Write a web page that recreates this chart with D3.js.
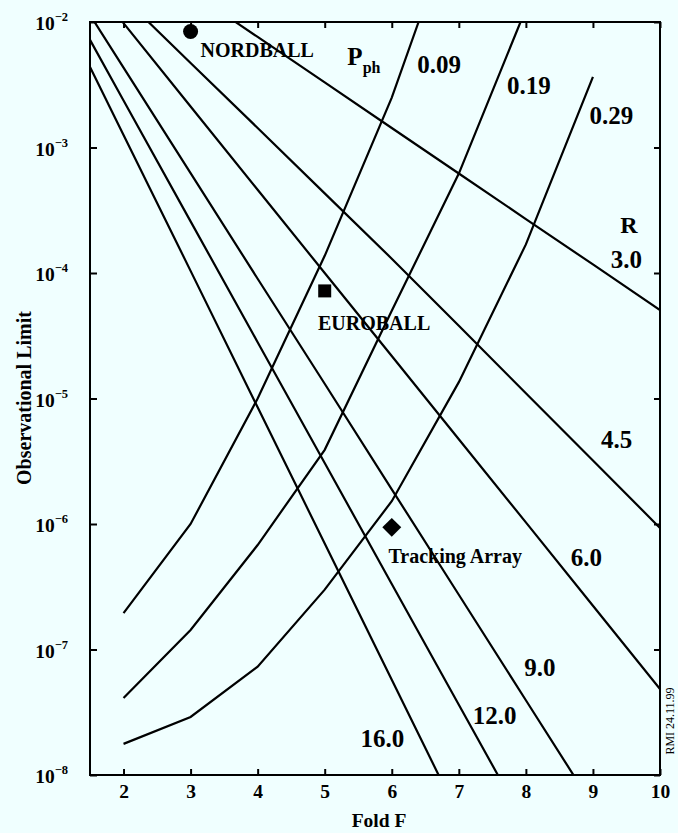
<!DOCTYPE html>
<html><head><meta charset="utf-8">
<script src="https://cdn.jsdelivr.net/npm/d3@7"></script>
<style>
html,body{margin:0;padding:0;background:#f0ffff;}
svg{display:block;background:#f0ffff;}
text{font-family:"Liberation Serif","Times New Roman",serif;font-weight:bold;fill:#000;}
</style></head><body>
<svg id="chart" width="678" height="833"></svg>
<script>
// ---------- data ----------
const foldTicks = [2, 3, 4, 5, 6, 7, 8, 9, 10];
const limitTickExponents = [-2, -3, -4, -5, -6, -7, -8];

// peak-to-background ratio R lines
const rLabels = ["3.0", "4.5", "6.0", "9.0", "12.0", "16.0"];
const rFolds = [1.5, 2, 3, 4, 5, 6, 7, 8, 9, 10];
const rLimit30  = [null, null, 1.75e-2, 7.6e-3, 3.30e-3, 1.43e-3, 6.21e-4, 2.69e-4, 1.17e-4, 5.07e-5];
const rLimit45  = [null, 1.56e-2, 4.72e-3, 1.43e-3, 4.31e-4, 1.30e-4, 3.80e-5, 1.10e-5, 3.21e-6, 9.3e-7];
const rLimit60  = [2.1e-2, 9.8e-3, 2.12e-3, 4.61e-4, 1.0e-4, 2.18e-5, 4.73e-6, 1.03e-6, 2.23e-7, 4.85e-8];
const rLimit90  = [1.14e-2, 4.33e-3, 6.25e-4, 9.0e-5, 1.31e-5, 1.89e-6, 2.73e-7, 3.94e-8, 5.7e-9, null];
const rLimit120 = [7.2e-3, 2.37e-3, 2.58e-4, 2.81e-5, 3.06e-6, 3.33e-7, 3.63e-8, 3.96e-9, null, null];
const rLimit160 = [4.38e-3, 1.26e-3, 1.04e-4, 8.5e-6, 7.0e-7, 5.75e-8, 4.7e-9, null, null, null];

// photopeak efficiency P_ph curves
const phLabels = ["0.09", "0.19", "0.29"];
const ph09Folds = [2, 3, 4, 5, 6, 6.4];
const ph09Limit = [1.95e-7, 1.0e-6, 1.0e-5, 1.37e-4, 2.5e-3, 1.0e-2];
const ph19Folds = [2, 3, 4, 5, 6, 7, 7.92];
const ph19Limit = [4.1e-8, 1.43e-7, 6.8e-7, 3.9e-6, 5.0e-5, 6.2e-4, 1.0e-2];
const ph29Folds = [2, 3, 4, 5, 6, 7, 8, 9];
const ph29Limit = [1.77e-8, 2.9e-8, 7.3e-8, 3.0e-7, 1.52e-6, 1.35e-5, 1.69e-4, 3.65e-3];

// detector arrays
const arrayNames = ["NORDBALL", "EUROBALL", "Tracking Array"];
const arrayFolds = [3.0, 5.0, 6.0];
const arrayLimits = [8.4e-3, 7.2e-5, 9.4e-7];
const arraySymbols = ["circle", "square", "diamond"];

// ---------- layout ----------
const M = {left: 90, right: 660, top: 22, bottom: 775};
const svg = d3.select("#chart");

const x = d3.scaleLinear().domain([1.5, 10]).range([M.left, M.right]);
const y = d3.scaleLog().domain([1e-8, 1e-2]).range([M.bottom, M.top]);

svg.append("defs").append("clipPath").attr("id", "plotClip")
  .append("rect").attr("x", M.left).attr("y", M.top)
  .attr("width", M.right - M.left).attr("height", M.bottom - M.top);

function styleAxis(g) {
  g.select(".domain").remove();
  g.selectAll(".tick line").attr("stroke", "#000").attr("stroke-width", 2);
  g.attr("font-family", null).attr("font-size", null);
}
const ySteps = limitTickExponents.map(e => Math.pow(10, e));

svg.append("g").attr("transform", `translate(0,${M.bottom})`)
  .call(d3.axisBottom(x).tickValues(foldTicks).tickSizeInner(-6).tickSizeOuter(0).tickPadding(9.5).tickFormat(d3.format("d")))
  .call(styleAxis)
  .call(g => g.selectAll("text").style("font-size", "19.5px"));
svg.append("g").attr("transform", `translate(0,${M.top})`)
  .call(d3.axisTop(x).tickValues(foldTicks).tickSizeInner(-6).tickSizeOuter(0).tickFormat(""))
  .call(styleAxis);
svg.append("g").attr("transform", `translate(${M.left},0)`)
  .call(d3.axisLeft(y).tickValues(ySteps).tickSizeInner(-7).tickSizeOuter(0).tickFormat(""))
  .call(styleAxis);
svg.append("g").attr("transform", `translate(${M.right},0)`)
  .call(d3.axisRight(y).tickValues(ySteps).tickSizeInner(-6).tickSizeOuter(0).tickFormat(""))
  .call(styleAxis);

// y tick labels 10^e
const yLab = svg.append("g");
limitTickExponents.forEach(e => {
  const t = yLab.append("text")
    .attr("x", M.left - 22).attr("y", y(Math.pow(10, e)) + 8)
    .attr("text-anchor", "end").style("font-size", "19.5px");
  t.append("tspan").text("10");
  t.append("tspan").attr("dy", -9).style("font-size", "12.5px").text("\u2212" + Math.abs(e));
});

// frame
svg.append("rect").attr("x", M.left).attr("y", M.top)
  .attr("width", M.right - M.left).attr("height", M.bottom - M.top)
  .attr("fill", "none").attr("stroke", "#000").attr("stroke-width", 2);

// axis titles
svg.append("text").attr("x", 379).attr("y", 827).attr("text-anchor", "middle")
  .style("font-size", "19.5px").text("Fold F");
svg.append("text").attr("transform", "translate(31,398) rotate(-90)").attr("text-anchor", "middle")
  .style("font-size", "20px").text("Observational Limit");

// curves
const plot = svg.append("g").attr("clip-path", "url(#plotClip)");
const line = d3.line().defined(d => d.v != null).x(d => x(d.f)).y(d => y(d.v));

const rSeries = [rLimit30, rLimit45, rLimit60, rLimit90, rLimit120, rLimit160];
rSeries.forEach(vals => {
  plot.append("path").datum(rFolds.map((f, i) => ({f, v: vals[i]})))
    .attr("d", line).attr("fill", "none").attr("stroke", "#000").attr("stroke-width", 2.2);
});
const phSeries = [[ph09Folds, ph09Limit], [ph19Folds, ph19Limit], [ph29Folds, ph29Limit]];
phSeries.forEach(([fs, vs]) => {
  plot.append("path").datum(fs.map((f, i) => ({f, v: vs[i]})))
    .attr("d", line).attr("fill", "none").attr("stroke", "#000").attr("stroke-width", 2.2);
});

// markers + names
const nameOffsets = [[10, 25], [-6.7, 39], [-3.3, 36]];
arrayNames.forEach((name, i) => {
  const px = x(arrayFolds[i]), py = y(arrayLimits[i]);
  const s = arraySymbols[i];
  if (s === "circle") {
    svg.append("circle").attr("cx", px).attr("cy", py).attr("r", 7.5).attr("fill", "#000");
  } else if (s === "square") {
    svg.append("path").attr("d", d3.symbol(d3.symbolSquare, 13 * 13)())
      .attr("transform", `translate(${px},${py})`).attr("fill", "#000");
  } else {
    svg.append("path").attr("d", d3.symbol(d3.symbolSquare, 13.4 * 13.4)())
      .attr("transform", `translate(${px},${py}) rotate(45)`).attr("fill", "#000");
  }
  svg.append("text").attr("x", px + nameOffsets[i][0]).attr("y", py + nameOffsets[i][1])
    .style("font-size", "20px").text(name);
});

// curve labels (positions in data coordinates)
const rLabelF = [9.265, 9.12, 8.67, 7.976, 7.207, 5.532];
const rLabelV = [1.10e-4, 4.04e-6, 4.62e-7, 6.15e-8, 2.55e-8, 1.67e-8];
rLabels.forEach((t, i) => {
  svg.append("text").attr("x", x(rLabelF[i])).attr("y", y(rLabelV[i]))
    .style("font-size", "25px").text(t);
});
const phLabelF = [6.379, 7.718, 8.95];
const phLabelV = [3.93e-3, 2.67e-3, 1.54e-3];
phLabels.forEach((t, i) => {
  svg.append("text").attr("x", x(phLabelF[i])).attr("y", y(phLabelV[i]))
    .style("font-size", "25px").text(t);
});
svg.append("text").attr("x", x(9.406)).attr("y", y(2.08e-4)).style("font-size", "24px").text("R");
const pt = svg.append("text").attr("x", x(5.338)).attr("y", y(4.54e-3)).style("font-size", "25px");
pt.append("tspan").text("P");
pt.append("tspan").attr("dy", 8).style("font-size", "16px").text("ph");

// stamp
svg.append("text").attr("transform", "translate(674,721) rotate(-90)").attr("text-anchor", "middle")
  .style("font-size", "12px").style("font-weight", "normal").text("RMI 24.11.99");
</script>
</body></html>
